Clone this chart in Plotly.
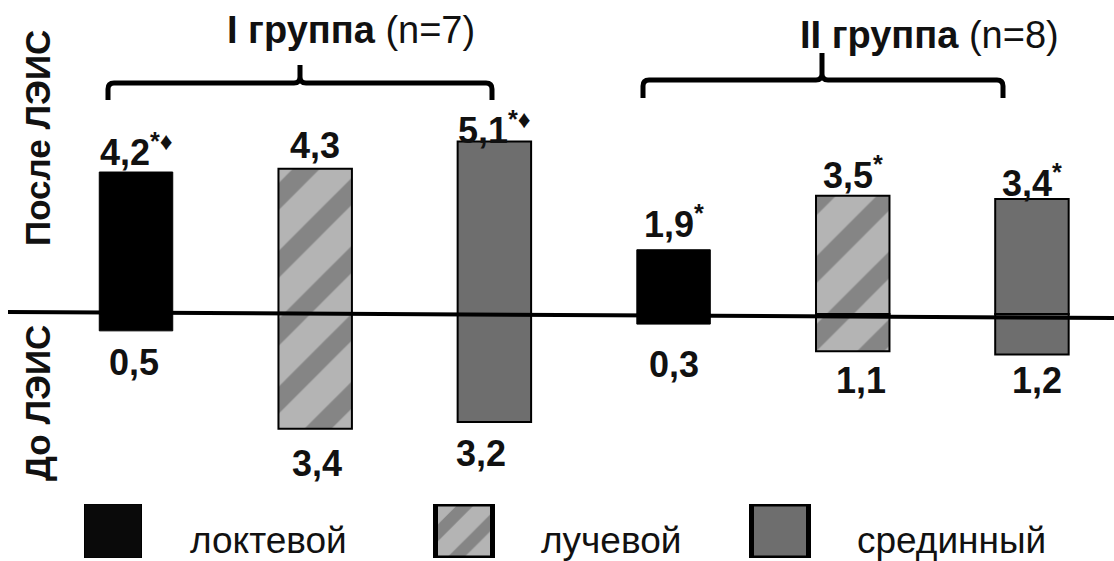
import plotly.graph_objects as go

# ---------------- data ----------------
nerves = ["локтевой", "лучевой", "срединный"]
group_names = ["I группа", "II группа"]
group_n = [7, 8]
after_g1 = [4.2, 4.3, 5.1]   # После ЛЭИС, I группа
after_g2 = [1.9, 3.5, 3.4]   # После ЛЭИС, II группа
before_g1 = [0.5, 3.4, 3.2]  # До ЛЭИС, I группа
before_g2 = [0.3, 1.1, 1.2]  # До ЛЭИС, II группа
after_marks_g1 = ["*♦", "", "*♦"]
after_marks_g2 = ["*", "*", "*"]
axis_top = "После ЛЭИС"
axis_bottom = "До ЛЭИС"

# ---------------- styles / layout constants ----------------
W, H = 1114, 561
FONT = "Liberation Sans, Arial, sans-serif"
BAR_W = 0.41
X_RANGE = [-0.759, 5.458]
Y_RANGE = [-7.31, 9.29]

styles = [
    dict(color="#000000", line=dict(color="#000000", width=1)),
    dict(color="#b4b4b4", line=dict(color="#000000", width=2),
         pattern=dict(shape="/", fgcolor="#555555", bgcolor="#b4b4b4", size=48, solidity=0.4)),
    dict(color="#6e6e6e", line=dict(color="#000000", width=2)),
]
legend_styles = [
    dict(color="#0a0a0a", line=dict(color="#000000", width=1)),
    dict(color="#b4b4b4", line=dict(color="#000000", width=5),
         pattern=dict(shape="/", fgcolor="#555555", bgcolor="#b4b4b4", size=30, solidity=0.4)),
    dict(color="#6e6e6e", line=dict(color="#000000", width=5)),
]
# label offsets (px): distance from bar end to label centre
top_shift = [[22, 23, 14], [28, 23, 18]]
bot_shift = [[32, 35, 31], [40, 29, 26]]
bot_xshift = [[-2, 2, -13], [0, 8, 5]]
legend_x = [113, 464, 780]      # px centres of legend swatches
legend_w = 57


def fmt(v):
    return f"{v:.1f}".replace(".", ",")


def px(x, y):
    return x / W, 1 - y / H


fig = go.Figure()

after = [after_g1, after_g2]
before = [before_g1, before_g2]
marks = [after_marks_g1, after_marks_g2]

for k, name in enumerate(nerves):
    xs = [0 * 3 + k, 1 * 3 + k, 0 * 3 + k, 1 * 3 + k]
    ys = [after_g1[k], after_g2[k], -before_g1[k], -before_g2[k]]
    fig.add_trace(go.Bar(x=xs, y=ys, base=0, width=BAR_W, marker=styles[k],
                         name=name, showlegend=False, hoverinfo="skip"))

# legend swatches as bars on a helper axis
for k, name in enumerate(nerves):
    fig.add_trace(go.Bar(x=[legend_x[k]], y=[1], base=0, width=legend_w,
                         marker=legend_styles[k], xaxis="x2", yaxis="y2",
                         showlegend=False, hoverinfo="skip"))

annotations = []
for g in range(2):
    for k in range(3):
        x = 3 * g + k
        m = marks[g][k]
        txt = fmt(after[g][k]) + (f"<sup>{m}</sup>" if m else "")
        annotations.append(dict(x=x, y=after[g][k], xref="x", yref="y", text=txt,
                                showarrow=False, yanchor="middle", xanchor="center",
                                yshift=top_shift[g][k],
                                font=dict(family=FONT, size=36, color="#111111", weight="bold")))
        annotations.append(dict(x=x, y=-before[g][k], xref="x", yref="y", text=fmt(before[g][k]),
                                showarrow=False, yanchor="middle", xanchor="center",
                                yshift=-bot_shift[g][k], xshift=bot_xshift[g][k],
                                font=dict(family=FONT, size=36, color="#111111", weight="bold")))

# group titles
title_pos = [(351, 30), (929, 35)]
for g in range(2):
    tx, ty = px(*title_pos[g])
    annotations.append(dict(x=tx, y=ty, xref="paper", yref="paper",
                            text=f"<b>{group_names[g]}</b> (n={group_n[g]})",
                            showarrow=False, xanchor="center", yanchor="middle",
                            font=dict(family=FONT, size=38, color="#111111")))

# axis side labels
for text, cy in [(axis_top, 138), (axis_bottom, 403)]:
    tx, ty = px(37, cy)
    annotations.append(dict(x=tx, y=ty, xref="paper", yref="paper", text=f"<b>{text}</b>",
                            textangle=-90, showarrow=False, xanchor="center", yanchor="middle",
                            font=dict(family=FONT, size=35, color="#111111")))

# legend texts
for k, name in enumerate(nerves):
    _, ty = px(0, 540)
    annotations.append(dict(x=legend_x[k] + 75, y=ty, xref="x2", yref="paper", text=name,
                            showarrow=False, xanchor="left", yanchor="middle",
                            font=dict(family=FONT, size=37, color="#111111")))

# braces
def brace(xl, xr, yline, yend, xtip, ytip, r=6):
    def P(x, y):
        a, b = px(x, y)
        return f"{a:.5f},{b:.5f}"
    path = (f"M {P(xl, yend)} L {P(xl, yline + r)} Q {P(xl, yline)} {P(xl + r, yline)} "
            f"L {P(xtip - r, yline)} Q {P(xtip, yline)} {P(xtip, yline - r)} L {P(xtip, ytip)} "
            f"M {P(xtip, yline - r)} Q {P(xtip, yline)} {P(xtip + r, yline)} "
            f"L {P(xr - r, yline)} Q {P(xr, yline)} {P(xr, yline + r)} L {P(xr, yend)}")
    return dict(type="path", path=path, xref="paper", yref="paper",
                line=dict(color="#000000", width=5), layer="above")

shapes = [
    brace(108, 492, 83, 100, 300, 65),
    brace(643, 1003, 80, 98, 822, 53),
]
# baseline
x0, y0 = px(8, 312)
x1, y1 = px(1114, 318)
shapes.append(dict(type="line", x0=x0, y0=y0, x1=x1, y1=y1, xref="paper", yref="paper",
                   line=dict(color="#000000", width=4), layer="above"))

fig.update_layout(
    width=W, height=H,
    margin=dict(l=0, r=0, t=0, b=0),
    paper_bgcolor="white", plot_bgcolor="white",
    barmode="overlay",
    xaxis=dict(range=X_RANGE, visible=False, fixedrange=True, domain=[0, 1]),
    yaxis=dict(range=Y_RANGE, visible=False, fixedrange=True, domain=[0, 1]),
    xaxis2=dict(range=[0, W], visible=False, domain=[0, 1], anchor="y2", overlaying="x",
                fixedrange=True),
    yaxis2=dict(range=[0, 1], visible=False, domain=[3 / H, 57 / H], anchor="x2",
                fixedrange=True),
    annotations=annotations,
    shapes=shapes,
    showlegend=False,
)

fig.write_html("out.html", config={"displayModeBar": False},
               post_script="document.body.style.margin='0px';")
